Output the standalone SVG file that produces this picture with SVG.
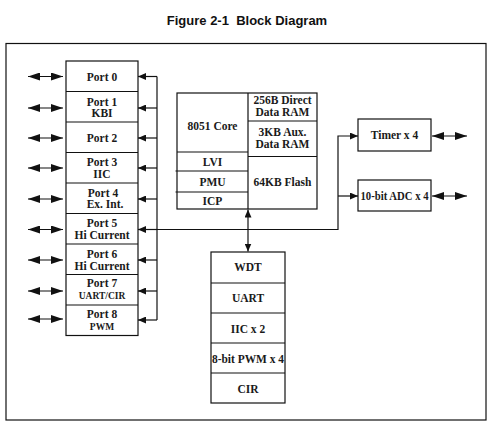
<svg xmlns="http://www.w3.org/2000/svg" width="498" height="431" viewBox="0 0 498 431">
<style>
.box{fill:#fff;stroke:#111;stroke-width:1.2}
.ln{fill:none;stroke:#111;stroke-width:1.2}
.t{font-family:"Liberation Serif","Times New Roman",serif;font-weight:bold;font-size:11.5px;fill:#1a1a1a;text-anchor:middle}
.s{font-size:9.5px}
.title{font-family:"Liberation Sans",Arial,sans-serif;font-weight:bold;font-size:13px;fill:#111;text-anchor:middle}
</style>
<defs>
<marker id="big" markerUnits="userSpaceOnUse" markerWidth="12" markerHeight="8" refX="12" refY="4" orient="auto-start-reverse" viewBox="0 0 12 8">
<path d="M0,0 L12,4 L0,8 z" fill="#111"/>
</marker>
<marker id="sm" markerUnits="userSpaceOnUse" markerWidth="8" markerHeight="7" refX="7.5" refY="3.25" orient="auto-start-reverse" viewBox="0 0 7.5 6.5">
<path d="M0,0 L7.5,3.25 L0,6.5 z" fill="#111"/>
</marker>
</defs>
<rect width="498" height="431" fill="#fff"/>
<text class="title" x="247" y="25" xml:space="preserve">Figure 2-1  Block Diagram</text>
<rect x="6" y="43.5" width="480" height="376.5" class="ln" stroke-width="1.3"/>

<g id="ports">
<rect class="box" x="66" y="61" width="72" height="274.5"/>
<path class="ln" d="M66,91.5H138M66,122H138M66,152.5H138M66,183H138M66,213.5H138M66,244H138M66,274.5H138"/>
<path class="ln" d="M66,305H138" stroke-width="2.2"/>
<g id="port0"><text class="t" x="102" y="81">Port 0</text></g>
<g id="port1"><text class="t" x="102" y="105.5">Port 1</text><text class="t" x="102" y="117">KBI</text></g>
<g id="port2"><text class="t" x="102" y="142">Port 2</text></g>
<g id="port3"><text class="t" x="102" y="165.5">Port 3</text><text class="t" x="102" y="177.5">IIC</text></g>
<g id="port4"><text class="t" x="103" y="196.5">Port 4</text><text class="t" x="105" y="208">Ex. Int.</text></g>
<g id="port5"><text class="t" x="102" y="226.8">Port 5</text><text class="t" x="102" y="238.7">Hi Current</text></g>
<g id="port6"><text class="t" x="102" y="257.5">Port 6</text><text class="t" x="102" y="269.5">Hi Current</text></g>
<g id="port7"><text class="t" x="102" y="287">Port 7</text><text class="t s" x="102" y="298.5">UART/CIR</text></g>
<g id="port8"><text class="t" x="102" y="318.3">Port 8</text><text class="t s" x="102" y="330">PWM</text></g>
</g>

<g id="core">
<rect class="box" x="177" y="93" width="140" height="116"/>
<path class="ln" d="M248,93V209M248,121H317M248,156.5H317M177,152H248M175.5,171H248M175.5,192H248"/>
<text class="t" x="212.5" y="129.5">8051 Core</text>
<text class="t" x="282.5" y="104">256B Direct</text>
<text class="t" x="282.5" y="116">Data RAM</text>
<text class="t" x="282.5" y="136">3KB Aux.</text>
<text class="t" x="282.5" y="147.5">Data RAM</text>
<text class="t" x="212.5" y="166">LVI</text>
<text class="t" x="212.5" y="186">PMU</text>
<text class="t" x="212.5" y="205">ICP</text>
<text class="t" x="282.5" y="185.5">64KB Flash</text>
</g>

<g id="peripherals">
<rect class="box" x="211" y="252" width="74" height="151"/>
<path class="ln" d="M211,283H285M211,313H285M211,343H285M211,373H285"/>
<text class="t" x="248" y="271">WDT</text>
<text class="t" x="248" y="301.7">UART</text>
<text class="t" x="248" y="332.5">IIC x 2</text>
<text class="t" x="248" y="363" textLength="72" lengthAdjust="spacingAndGlyphs">8-bit PWM x 4</text>
<text class="t" x="248" y="392.7">CIR</text>
</g>

<g id="timer">
<rect class="box" x="358" y="119" width="73" height="32"/>
<text class="t" x="394.5" y="139.3">Timer x 4</text>
</g>
<g id="adc">
<rect class="box" x="358" y="180" width="73" height="31"/>
<text class="t" x="394.5" y="200" textLength="68" lengthAdjust="spacingAndGlyphs">10-bit ADC x 4</text>
</g>

<g id="connectors">
<g class="ln">
<path d="M28,76.5H63" marker-start="url(#big)" marker-end="url(#big)"/>
<path d="M28,108H63" marker-start="url(#big)" marker-end="url(#big)"/>
<path d="M28,138H63" marker-start="url(#big)" marker-end="url(#big)"/>
<path d="M28,168H63" marker-start="url(#big)" marker-end="url(#big)"/>
<path d="M28,199H63" marker-start="url(#big)" marker-end="url(#big)"/>
<path d="M28,229.5H63" marker-start="url(#big)" marker-end="url(#big)"/>
<path d="M28,260H63" marker-start="url(#big)" marker-end="url(#big)"/>
<path d="M28,291H63" marker-start="url(#big)" marker-end="url(#big)"/>
<path d="M28,319H63" marker-start="url(#big)" marker-end="url(#big)"/>
<path d="M157,76.5V320"/>
<path d="M157,76.5H138" marker-end="url(#sm)"/>
<path d="M157,108H138" marker-end="url(#sm)"/>
<path d="M157,138H138" marker-end="url(#sm)"/>
<path d="M157,168H138" marker-end="url(#sm)"/>
<path d="M157,199H138" marker-end="url(#sm)"/>
<path d="M157,229.5H138" marker-end="url(#sm)"/>
<path d="M157,260H138" marker-end="url(#sm)"/>
<path d="M157,291H138" marker-end="url(#sm)"/>
<path d="M157,320H138" marker-end="url(#sm)"/>
<path d="M157,229.5H338V136H358" marker-end="url(#sm)"/>
<path d="M338,196H358" marker-end="url(#sm)"/>
<path d="M248,209.5V251.5" marker-start="url(#sm)" marker-end="url(#sm)"/>
<path d="M432,136H467" marker-start="url(#big)" marker-end="url(#big)"/>
<path d="M432,196H467" marker-start="url(#big)" marker-end="url(#big)"/>
</g>
</g>
</svg>
